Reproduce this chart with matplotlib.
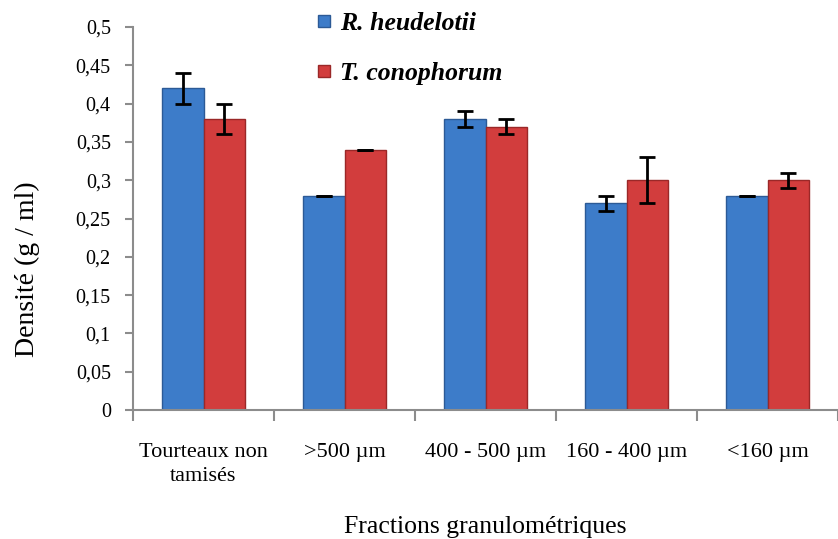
import matplotlib
matplotlib.use("Agg")
import matplotlib.pyplot as plt
import numpy as np
from matplotlib.lines import Line2D

plt.rcParams["font.family"] = ["Liberation Serif", "DejaVu Serif"]

categories = ["Tourteaux non\ntamisés", ">500 µm", "400 - 500 µm", "160 - 400 µm", "<160 µm"]
heudelotii = [0.42, 0.28, 0.38, 0.27, 0.28]
heudelotii_err = [0.02, 0.0, 0.01, 0.01, 0.0]
conophorum = [0.38, 0.34, 0.37, 0.30, 0.30]
conophorum_err = [0.02, 0.0, 0.01, 0.03, 0.01]

fig = plt.figure(figsize=(8.38, 5.39), dpi=100)
ax = fig.add_axes([133 / 838, 129 / 539, 705 / 838, 383 / 539])

x = np.arange(len(categories))
w = 0.295
err_kw = dict(ecolor="black", capsize=6, elinewidth=2, capthick=2)
ax.bar(x - w / 2, heudelotii, w, yerr=heudelotii_err, color="#3d7cc9",
       edgecolor="#2c5a96", linewidth=1, error_kw=err_kw, zorder=2)
ax.bar(x + w / 2, conophorum, w, yerr=conophorum_err, color="#d23d3d",
       edgecolor="#9a2828", linewidth=1, error_kw=err_kw, zorder=2)

ax.set_ylim(0, 0.5)
yt = np.arange(0, 0.501, 0.05)
ax.set_yticks(yt)
ax.set_yticklabels(["0" if v == 0 else f"{v:g}".replace(".", ",") for v in yt])
ax.set_xlim(-0.5, (838 - 133) / 143 - 0.5)

# category labels at centres, tick marks between groups
ax.set_xticks(x)
ax.set_xticklabels(categories, linespacing=1.3)
ax.set_xticks(np.arange(-0.5, len(categories), 1.0), minor=True)
ax.tick_params(axis="x", which="major", length=0, pad=24, labelsize=16)
ax.tick_params(axis="x", which="minor", length=8, width=1.5, color="#8c8c8c")
ax.tick_params(axis="y", length=6, width=1.5, color="#8c8c8c", labelsize=14.5, pad=10)

for side in ["top", "right"]:
    ax.spines[side].set_visible(False)
for side in ["left", "bottom"]:
    ax.spines[side].set_color("#8c8c8c")
    ax.spines[side].set_linewidth(1.5)

ax.set_ylabel("Densité (g / ml)", fontsize=20)
ax.yaxis.set_label_coords((40 - 133) / 705, (539 - 269 - 129) / 383)
ax.set_xlabel("Fractions granulométriques", fontsize=18.5, labelpad=22)

handles = [
    Line2D([], [], marker="s", linestyle="none", markersize=8,
           markerfacecolor="#3d7cc9", markeredgecolor="#2c5a96"),
    Line2D([], [], marker="s", linestyle="none", markersize=8,
           markerfacecolor="#d23d3d", markeredgecolor="#9a2828"),
]
fig.legend(handles, ["R. heudelotii", "T. conophorum"], loc="upper left",
           bbox_to_anchor=(291 / 838, 1.02), frameon=False, handlelength=0.8,
           handletextpad=0.2, labelspacing=1.05,
           prop=dict(size=18.5, weight="bold", style="italic"))

fig.savefig("out.png", dpi=100)
